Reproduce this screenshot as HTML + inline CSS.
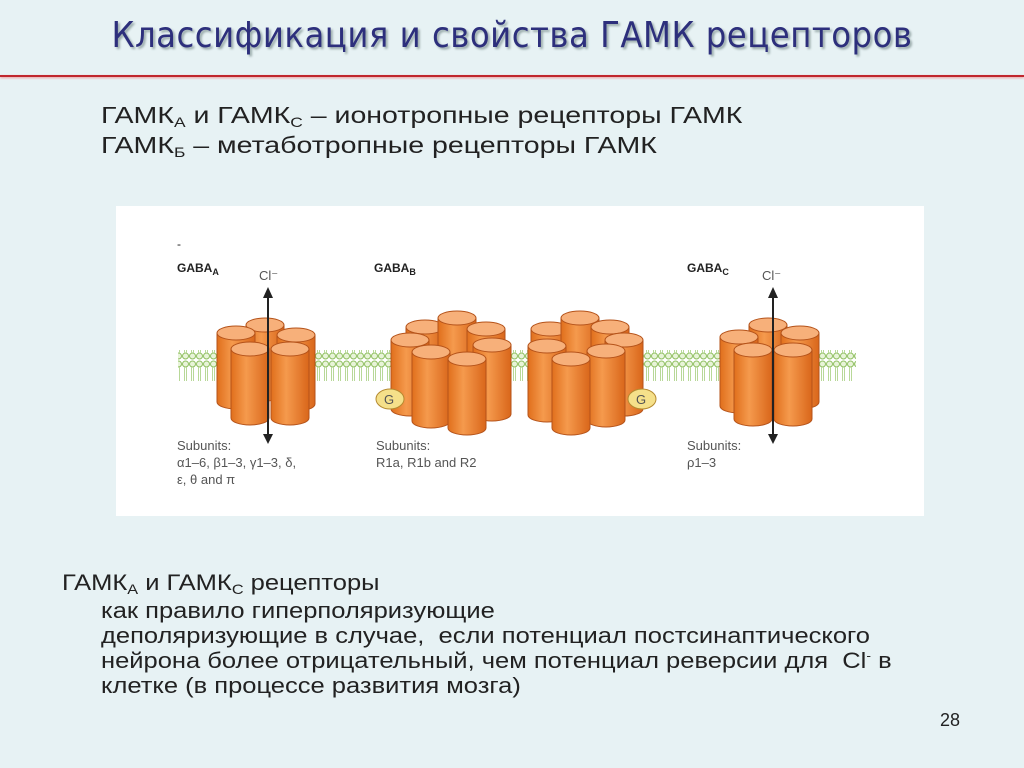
<!DOCTYPE html>
<html><head><meta charset="utf-8"><style>
body{margin:0;width:1024px;height:768px;background:#e7f2f4;position:relative;overflow:hidden;font-family:"Liberation Sans",sans-serif}
.t{position:absolute;left:0;width:1024px;top:15px;text-align:center;font-size:36px;color:#2d2f7c;text-shadow:2px 2px 2px #9aa;font-family:"DejaVu Sans Condensed","DejaVu Sans",sans-serif;letter-spacing:0.5px}
.line{position:absolute;left:0;top:75px;width:1024px;height:2px;background:#c0272d;box-shadow:0 1px 2px #e99}
.p{position:absolute;font-size:22px;color:#222;line-height:30px;transform-origin:0 0;white-space:nowrap}
sub{font-size:14px;vertical-align:-4px;line-height:0}
sup{line-height:0}
</style></head><body>
<div class="t">Классификация и свойства ГАМК рецепторов</div>
<div class="line"></div>
<div class="p" style="left:101px;top:100px;font-size:23px;transform:scaleX(1.24)">ГАМК<sub>А</sub> и ГАМК<sub>С</sub> – ионотропные рецепторы ГАМК<br>ГАМК<sub>Б</sub> – метаботропные рецепторы ГАМК</div>
<svg style="position:absolute;left:0;top:0" width="1024" height="768">
<defs>
<linearGradient id="g" x1="0" x2="1"><stop offset="0" stop-color="#e06f1c"/><stop offset="0.4" stop-color="#f59a4d"/><stop offset="1" stop-color="#d9661a"/></linearGradient>
<pattern id="m" width="7" height="30" patternUnits="userSpaceOnUse"><circle cx="3.5" cy="4" r="3" fill="#e8f4d8" stroke="#8fbf60" stroke-width="1"/><circle cx="3.5" cy="26" r="3" fill="#e8f4d8" stroke="#8fbf60" stroke-width="1"/><line x1="2.5" y1="7" x2="2.5" y2="23" stroke="#b8d898"/><line x1="4.5" y1="7" x2="4.5" y2="23" stroke="#b8d898"/></pattern>
<symbol id="c" width="40" height="84" overflow="visible">
<path d="M1 7 L1 76 A19 7 0 0 0 39 76 L39 7 Z" fill="url(#g)" stroke="#b5531a" stroke-width="1"/>
<ellipse cx="20" cy="7" rx="19" ry="7" fill="#f7b07a" stroke="#b5531a" stroke-width="1"/>
</symbol>
</defs>
<rect x="116" y="206" width="808" height="310" fill="#fff"/>
<rect x="178" y="350" width="678" height="31" fill="url(#m)"/>
<g font-family="Liberation Sans" font-weight="bold" font-size="12" fill="#222">
<text x="177" y="248" font-weight="normal">-</text>
<text x="177" y="272">GABA<tspan font-size="9" dy="3">A</tspan></text>
<text x="374" y="272">GABA<tspan font-size="9" dy="3">B</tspan></text>
<text x="687" y="272">GABA<tspan font-size="9" dy="3">C</tspan></text>
</g>
<g font-family="Liberation Sans" font-size="13" fill="#555">
<text x="259" y="280">Cl⁻</text><text x="762" y="280">Cl⁻</text>
<text x="177" y="450">Subunits:</text><text x="177" y="467">α1–6, β1–3, γ1–3, δ,</text><text x="177" y="484">ε, θ and π</text>
<text x="376" y="450">Subunits:</text><text x="376" y="467">R1a, R1b and R2</text>
<text x="687" y="450">Subunits:</text><text x="687" y="467">ρ1–3</text>
</g>
<use href="#c" x="245" y="318"/><use href="#c" x="216" y="326"/><use href="#c" x="276" y="328"/>
<use href="#c" x="230" y="342"/><use href="#c" x="270" y="342"/>
<use href="#c" x="405" y="320"/><use href="#c" x="437" y="311"/><use href="#c" x="466" y="322"/>
<use href="#c" x="390" y="333"/><use href="#c" x="472" y="338"/>
<use href="#c" x="411" y="345"/><use href="#c" x="447" y="352"/>
<ellipse cx="390" cy="399" rx="14" ry="10" fill="#f5e08a" stroke="#b58a30"/><text x="384" y="404" font-family="Liberation Sans" font-size="13" fill="#555">G</text>
<use href="#c" x="530" y="322"/><use href="#c" x="560" y="311"/><use href="#c" x="590" y="320"/>
<use href="#c" x="604" y="333"/><use href="#c" x="527" y="339"/>
<use href="#c" x="586" y="344"/><use href="#c" x="551" y="352"/>
<ellipse cx="642" cy="399" rx="14" ry="10" fill="#f5e08a" stroke="#b58a30"/><text x="636" y="404" font-family="Liberation Sans" font-size="13" fill="#555">G</text>
<use href="#c" x="748" y="318"/><use href="#c" x="719" y="330"/><use href="#c" x="780" y="326"/>
<use href="#c" x="733" y="343"/><use href="#c" x="773" y="343"/>
<g stroke="#222" stroke-width="2"><line x1="268" y1="296" x2="268" y2="436"/><line x1="773" y1="296" x2="773" y2="436"/></g>
<g fill="#222"><path d="M263 298 L268 287 L273 298Z"/><path d="M263 434 L268 444 L273 434Z"/><path d="M768 298 L773 287 L778 298Z"/><path d="M768 434 L773 444 L778 434Z"/></g>
</svg>
<div class="p" style="left:62px;top:569px;line-height:27px;transform:scaleX(1.16)">ГАМК<sub>А</sub> и ГАМК<sub>С</sub> рецепторы</div>
<div class="p" style="left:101px;top:598px;line-height:25px;font-size:22px;transform:scaleX(1.16)">как правило гиперполяризующие<br>деполяризующие в случае,&nbsp; если потенциал постсинаптического<br>нейрона более отрицательный, чем потенциал реверсии для&nbsp; Cl<sup style="font-size:12px">-</sup> в<br>клетке (в процессе развития мозга)</div>
<div class="p" style="left:940px;top:705px;font-size:18px">28</div>
</body></html>
